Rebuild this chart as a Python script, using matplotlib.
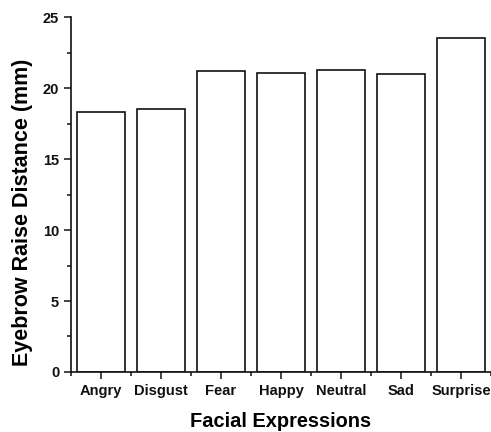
import matplotlib
matplotlib.use("Agg")
import matplotlib.pyplot as plt
from matplotlib.ticker import MultipleLocator, FixedLocator

plt.rcParams["font.family"] = ["Liberation Sans", "DejaVu Sans"]
plt.rcParams["font.weight"] = "bold"

expressions = ["Angry", "Disgust", "Fear", "Happy", "Neutral", "Sad", "Surprise"]
distance = [18.3, 18.55, 21.22, 21.08, 21.24, 21.0, 23.52]

fig = plt.figure(figsize=(4.91, 4.32), dpi=100)
ax = fig.add_axes([0.1446, 0.1389, 0.8554, 0.8217])

x = list(range(len(expressions)))
ax.bar(x, distance, width=0.8, color="white", edgecolor="#111111", linewidth=1.2)

ax.set_xlim(-0.5, len(expressions) - 0.5)
ax.set_ylim(0, 25)
ax.set_xticks(x)
ax.set_xticklabels(expressions)
ax.xaxis.set_minor_locator(FixedLocator([i + 0.5 for i in range(-1, len(expressions))]))
ax.yaxis.set_major_locator(MultipleLocator(5))
ax.yaxis.set_minor_locator(MultipleLocator(2.5))

for side in ["top", "right"]:
    ax.spines[side].set_visible(False)
for side in ["left", "bottom"]:
    ax.spines[side].set_linewidth(1.2)
    ax.spines[side].set_color("#111111")

ax.tick_params(which="major", length=5, width=1.1, labelsize=10.5, pad=3.5, colors="#111111")
ax.tick_params(which="minor", length=3, width=1.1, colors="#111111")

ax.set_xlabel("Facial Expressions", fontsize=14.4, fontweight="bold", labelpad=10.5)
ax.set_ylabel("Eyebrow Raise Distance (mm)", fontsize=15.5, fontweight="bold")
ax.yaxis.set_label_coords(-0.09, 0.45)

fig.savefig("out.png", dpi=100)
